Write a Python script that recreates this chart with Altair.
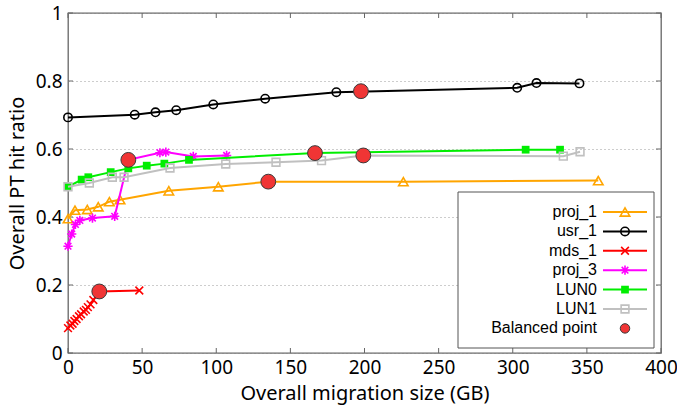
import altair as alt
import pandas as pd

# ---------------- data ----------------
x_ticks = [0, 50, 100, 150, 200, 250, 300, 350, 400]
y_ticks = [0, 0.2, 0.4, 0.6, 0.8, 1.0]

proj_1_x = [0, 4.7, 13, 20.4, 27.9, 35.1, 68, 101.4, 135.1, 226.2, 357.7]
proj_1_y = [0.395, 0.42, 0.422, 0.43, 0.445, 0.451, 0.477, 0.489, 0.504, 0.504, 0.507]

usr_1_x = [0, 45, 59, 73, 98, 133, 181, 303, 316, 345]
usr_1_y = [0.693, 0.701, 0.708, 0.714, 0.731, 0.748, 0.767, 0.780, 0.794, 0.793]

mds_1_x = [0, 1.6, 3.1, 4.3, 5.8, 7.4, 8.8, 10.6, 12.1, 13.4, 15.2, 17.1, 21.1, 48.1]
mds_1_y = [0.073, 0.081, 0.086, 0.094, 0.100, 0.108, 0.114, 0.122, 0.127, 0.135, 0.143, 0.156, 0.181, 0.184]

proj_3_x = [0, 2.5, 5.0, 8.0, 16.5, 31.5, 40.7, 62.0, 66.0, 84.5, 107.0]
proj_3_y = [0.314, 0.350, 0.378, 0.390, 0.397, 0.402, 0.568, 0.589, 0.591, 0.578, 0.581]

LUN0_x = [0, 9.2, 13.7, 28.8, 40.7, 53.1, 65.0, 81.6, 166.6, 308.7, 331.9]
LUN0_y = [0.489, 0.510, 0.517, 0.532, 0.543, 0.551, 0.557, 0.568, 0.588, 0.598, 0.598]

LUN1_x = [0, 14.4, 29.9, 37.8, 68.8, 106.4, 140.3, 171.0, 199.2, 334.1, 345.4]
LUN1_y = [0.489, 0.500, 0.517, 0.517, 0.544, 0.556, 0.561, 0.566, 0.581, 0.579, 0.592]

balanced_names = ["proj_1", "usr_1", "mds_1", "proj_3", "LUN0", "LUN1"]
balanced_x = [135.1, 197.6, 21.1, 40.7, 166.6, 199.2]
balanced_y = [0.504, 0.770, 0.181, 0.568, 0.588, 0.581]

X_PATH = "M-1,-1L1,1M-1,1L1,-1"
STAR_PATH = "M-1,0L1,0M0,-1L0,1M-0.72,-0.72L0.72,0.72M-0.72,0.72L0.72,-0.72"

# name, x, y, colour, shape, filled, size
series = [
    ("proj_1", proj_1_x, proj_1_y, "#FFA500", "triangle-up", False, 90),
    ("usr_1", usr_1_x, usr_1_y, "#000000", "circle", False, 70),
    ("mds_1", mds_1_x, mds_1_y, "#FF0000", X_PATH, False, 60),
    ("proj_3", proj_3_x, proj_3_y, "#FF00FF", STAR_PATH, False, 85),
    ("LUN0", LUN0_x, LUN0_y, "#00EE00", "square", True, 60),
    ("LUN1", LUN1_x, LUN1_y, "#C0C0C0", "square", False, 60),
]

# ---------------- layout ----------------
W, H = 593, 340
FONT = "Noto Sans"
LEGEND_FONT = "Liberation Sans"
FRAME = "#666666"
BAL_FILL = "#F03535"

xs = alt.Scale(domain=[0, 400], nice=False, zero=False)
ys = alt.Scale(domain=[0, 1], nice=False, zero=False)
x_axis = alt.Axis(values=x_ticks, title="Overall migration size (GB)", grid=False,
                  labelOverlap=False, labelFlush=False, labelPadding=5, titlePadding=6)
y_axis = alt.Axis(values=y_ticks, format="~g", title="Overall PT hit ratio", grid=True,
                  gridDash=[1, 3], gridColor="#9a9a9a", gridWidth=1,
                  labelOverlap=False, labelPadding=6, titlePadding=8)


def X(field):
    return alt.X(field, type="quantitative", scale=xs, axis=x_axis)


def Y(field):
    return alt.Y(field, type="quantitative", scale=ys, axis=y_axis)


layers = []

# inward tick marks on all four sides
xt = pd.DataFrame({"x": x_ticks})
yt = pd.DataFrame({"y": y_ticks})
TL = 5
layers.append(alt.Chart(xt).mark_rule(color=FRAME, strokeWidth=1).encode(
    x=X("x"), y=alt.value(H), y2=alt.value(H - TL)))
layers.append(alt.Chart(xt).mark_rule(color=FRAME, strokeWidth=1).encode(
    x=X("x"), y=alt.value(0), y2=alt.value(TL)))
layers.append(alt.Chart(yt).mark_rule(color=FRAME, strokeWidth=1).encode(
    y=Y("y"), x=alt.value(0), x2=alt.value(TL)))
layers.append(alt.Chart(yt).mark_rule(color=FRAME, strokeWidth=1).encode(
    y=Y("y"), x=alt.value(W), x2=alt.value(W - TL)))

# data series
for name, sx, sy, col, shape, filled, size in series:
    df = pd.DataFrame({"x": sx, "y": sy, "series": name})
    base = alt.Chart(df)
    layers.append(base.mark_line(color=col, strokeWidth=2).encode(x=X("x"), y=Y("y")))
    pt = dict(shape=shape, size=size, strokeWidth=1.6, opacity=1)
    if filled:
        pt.update(filled=True, fill=col, color=col)
    else:
        pt.update(filled=False, stroke=col, color=col)
    layers.append(base.mark_point(**pt).encode(x=X("x"), y=Y("y")))

# balanced points
bdf = pd.DataFrame({"x": balanced_x, "y": balanced_y, "series": balanced_names})
layers.append(alt.Chart(bdf).mark_point(shape="circle", filled=True, fill=BAL_FILL,
                                        stroke="#3a3a3a", strokeWidth=1, size=220,
                                        opacity=1).encode(x=X("x"), y=Y("y")))

# legend (gnuplot style: label left, sample right)
one = pd.DataFrame({"k": [0]})
LX0, LX1, LY0, LY1 = 390, 586, 179, 335
layers.append(alt.Chart(one).mark_rect(fill="white", stroke="#555555", strokeWidth=1).encode(
    x=alt.value(LX0), x2=alt.value(LX1), y=alt.value(LY0), y2=alt.value(LY1)))
ROW0, GAP = 199, 19.4
TEXT_R, S0, S1, SC = 529, 535, 579, 557
legend_items = [(s[0], s[3], s[4], s[5], s[6], True) for s in series]
legend_items.append(("Balanced point", BAL_FILL, "circle", True, 90, False))
for i, (name, col, shape, filled, size, has_line) in enumerate(legend_items):
    yy = ROW0 + i * GAP
    lab = pd.DataFrame({"label": [name]})
    layers.append(alt.Chart(lab).mark_text(align="right", baseline="middle", font=LEGEND_FONT,
                                           fontSize=16, color="#000000").encode(
        text="label:N", x=alt.value(TEXT_R), y=alt.value(yy)))
    if has_line:
        layers.append(alt.Chart(one).mark_rule(color=col, strokeWidth=2).encode(
            x=alt.value(S0), x2=alt.value(S1), y=alt.value(yy)))
        pt = dict(shape=shape, size=size, strokeWidth=1.6, opacity=1)
        if filled:
            pt.update(filled=True, fill=col, color=col)
        else:
            pt.update(filled=False, stroke=col, color=col)
    else:
        pt = dict(shape=shape, size=size, filled=True, fill=col, stroke="#3a3a3a",
                  strokeWidth=1, opacity=1)
    layers.append(alt.Chart(one).mark_point(**pt).encode(x=alt.value(SC), y=alt.value(yy)))

chart = alt.layer(*layers).properties(
    width=W, height=H,
    autosize=alt.AutoSizeParams(type="none"),
    padding={"left": 68, "top": 13, "right": 16, "bottom": 53},
    background="white",
).configure_view(
    stroke=FRAME, strokeWidth=1.3
).configure_axis(
    domain=False, ticks=False,
    labelFont=FONT, labelFontSize=19, labelColor="#000000",
    titleFont=FONT, titleFontSize=20, titleFontWeight="normal", titleColor="#000000",
)

chart.save("out.html", embed_options={"renderer": "svg", "actions": False})
